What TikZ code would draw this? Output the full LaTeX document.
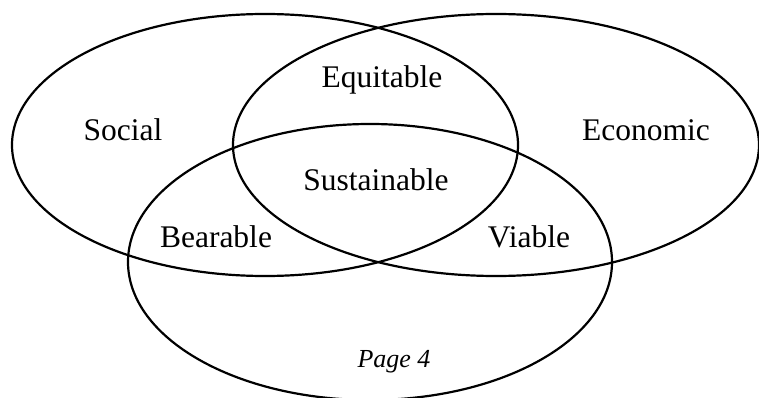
\documentclass[tikz,border=0pt]{standalone}
\usepackage{fontspec}
\setmainfont{Liberation Serif}
\usetikzlibrary{positioning}

\begin{document}
\begin{tikzpicture}[x=1pt, y=-1pt, line width=2.2pt]
        % Define styles
        \tikzstyle{circleline} = [draw, black]
        \tikzstyle{label} = [font=\fontsize{31.5}{36}\selectfont, inner sep=0pt]

        \useasboundingbox (0,0) rectangle (759,398);

        % Three circles of the diagram
        \draw[circleline] (265,145) ellipse [x radius=253, y radius=131];
        \draw[circleline] (496,145) ellipse [x radius=263, y radius=131];
        \draw[circleline] (370,262) ellipse [x radius=242, y radius=138];

        % Labels
        \node [label] (social) at (123,130) {Social};
        \node [label] (economic) at (646,130) {Economic};
        \node [label] (equitable) at (382,80) {Equitable};
        \node [label] (sustainable) at (376,180) {Sustainable};
        \node [label] (bearable) at (216,237) {Bearable};
        \node [label] (viable) at (529,237) {Viable};
        \node [label, font=\fontsize{26}{30}\selectfont\itshape] (page) at (394,362) {Page 4};

    \end{tikzpicture}
\end{document}
